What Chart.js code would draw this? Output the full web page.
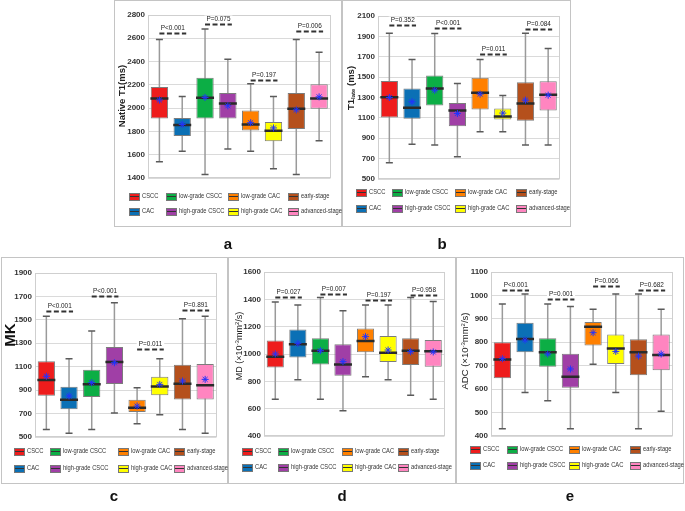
<!DOCTYPE html>
<html><head><meta charset="utf-8">
<script src="https://cdn.jsdelivr.net/npm/chart.js@4.4.0/dist/chart.umd.min.js"></script>
<style>
body{margin:0;width:685px;height:511px;background:#fff;position:relative;overflow:hidden;font-family:"Liberation Sans",Arial,sans-serif;}
.frame{position:absolute;border:1px solid #c4c4c4;box-sizing:border-box;}
canvas{position:absolute;}
.lbl{position:absolute;font-weight:bold;font-size:15px;line-height:15px;color:#111;transform:translateX(-50%);}
.yt{position:absolute;white-space:nowrap;color:#222;line-height:1;transform:translate(-50%,-50%) rotate(-90deg);}
.leg{position:absolute;white-space:nowrap;height:10px;}
.sw{position:absolute;left:0;top:1px;width:9px;height:6px;border:1px solid #777;}
.sw:after{content:"";position:absolute;left:0;right:0;top:2px;height:1px;background:#333;}
.lt{position:absolute;left:13px;top:-1px;font-size:8px;line-height:10px;color:#333;transform:scaleX(0.72);transform-origin:0 50%;}
</style></head>
<body>
<script>
// ---------- data ----------
const categories = ['CSCC','CAC','low-grade CSCC','high-grade CSCC','low-grade CAC','high-grade CAC','early-stage','advanced-stage'];
const colors = ['#ee1c1c','#0b70b5','#0cae45','#a03fa6','#ff8000','#ffff00','#b5501c','#ff85c0'];

// Panel a: Native T1 (ms)
const t1Min  = [1540,1630,1430,1650,1630,1480,1430,1720];
const t1Q1   = [1912,1760,1910,1912,1808,1715,1820,1995];
const t1Med  = [2082,1855,2090,2040,1860,1805,1995,2082];
const t1Q3   = [2182,1915,2262,2130,1980,1882,2130,2205];
const t1Max  = [2590,2100,2680,2420,2210,2100,2590,2480];
const t1Mean = [2070,1860,2092,2020,1875,1830,1985,2097];
const t1Ticks = [1400,2800,200];
const t1P = ['P<0.001','P=0.075','P=0.197','P=0.006'];
const t1PLevel = [2645,2720,2245,2660];

// Panel b: T1late (ms)
const tlMin  = [660,840,833,719,964,964,833,833];
const tlQ1   = [1104,1091,1222,1019,1183,1085,1072,1173];
const tlMed  = [1303,1199,1388,1173,1346,1114,1241,1326];
const tlQ3   = [1463,1388,1516,1245,1493,1192,1450,1460];
const tlMax  = [1930,1672,1927,1437,1672,1320,1930,1780];
const tlMean = [1300,1258,1372,1143,1333,1147,1274,1323];
const tlTicks = [500,2100,200];
const tlP = ['P=0.352','P<0.001','P=0.011','P=0.084'];
const tlPLevel = [2015,1979,1731,1973];

// Panel c: MK
const mkMin  = [565,531,565,705,614,690,565,531];
const mkQ1   = [853,736,841,952,713,856,821,821];
const mkMed  = [986,819,950,1140,750,932,955,941];
const mkQ3   = [1146,929,1075,1268,819,1015,1117,1123];
const mkMax  = [1530,1169,1405,1647,921,1169,1510,1530];
const mkMean = [1018,850,964,1134,764,949,978,992];
const mkTicks = [500,1900,200];
const mkP = ['P<0.001','P<0.001','P=0.011','P=0.891'];
const mkPLevel = [1576,1704,1254,1581];

// Panel d: MD
const mdMin  = [669,811,669,584,833,811,699,669];
const mdQ1   = [902,975,924,841,1012,941,919,907];
const mdMed  = [980,1071,1024,924,1095,1010,1024,1020];
const mdQ3   = [1098,1179,1115,1071,1186,1132,1115,1103];
const mdMax  = [1380,1358,1414,1316,1358,1358,1414,1384];
const mdMean = [1000,1078,1024,944,1127,1029,1017,1015];
const mdTicks = [400,1600,200];
const mdP = ['P=0.027','P=0.007','P=0.197','P=0.958'];
const mdPLevel = [1414,1438,1397,1429];

// Panel e: ADC
const adcMin  = [431,586,550,431,706,586,431,506];
const adcQ1   = [646,757,696,606,786,707,659,681];
const adcMed  = [726,814,757,653,866,774,757,746];
const adcQ3   = [800,883,817,751,887,833,813,833];
const adcMax  = [963,1006,963,953,941,1006,1006,941];
const adcMean = [730,810,750,686,841,761,741,750];
const adcTicks = [400,1100,100];
const adcP = ['P<0.001','P=0.001','P=0.066','P=0.682'];
const adcPLevel = [1024,984,1039,1024];

// pairs compared by each p-value (category indices)
const pPairs = [[0,1],[2,3],[4,5],[6,7]];

// ---------- layout ----------
const panels = [
  {key:'a', frame:[114,0,228,227], plot:[148,15,340,178], d:[t1Min,t1Q1,t1Med,t1Q3,t1Max,t1Mean], ticks:t1Ticks, p:t1P, pl:t1PLevel,
   title:{html:'Native T1(ms)', x:122, y:96, css:'font-size:9.5px;font-weight:bold;'},
   leg:{cols:[129,166,228,288], rows:[197,212]}, lbl:[228,236]},
  {key:'b', frame:[342,0,229,227], plot:[378,16,568,179], d:[tlMin,tlQ1,tlMed,tlQ3,tlMax,tlMean], ticks:tlTicks, p:tlP, pl:tlPLevel,
   title:{html:'T1<sub style="font-size:6px;vertical-align:-1px">late</sub> (ms)', x:351, y:88, css:'font-size:9.5px;font-weight:bold;'},
   leg:{cols:[356,392,455,516], rows:[193,209]}, lbl:[442,236]},
  {key:'c', frame:[1,257,227,227], plot:[35,273,226,437], d:[mkMin,mkQ1,mkMed,mkQ3,mkMax,mkMean], ticks:mkTicks, p:mkP, pl:mkPLevel,
   title:{html:'MK', x:9, y:335, css:'font-size:15px;font-weight:bold;color:#111;'},
   leg:{cols:[14,50,118,174], rows:[452,469]}, lbl:[114,488]},
  {key:'d', frame:[228,257,228,227], plot:[264,272,455,436], d:[mdMin,mdQ1,mdMed,mdQ3,mdMax,mdMean], ticks:mdTicks, p:mdP, pl:mdPLevel,
   title:{html:'MD (×10<sup style="font-size:6px;vertical-align:3px">-3</sup>mm<sup style="font-size:6px;vertical-align:3px">2</sup>/s)', x:239, y:346, css:'font-size:9px;'},
   leg:{cols:[242,278,342,398], rows:[452,468]}, lbl:[342,488]},
  {key:'e', frame:[456,257,228,227], plot:[491,272,683,436], d:[adcMin,adcQ1,adcMed,adcQ3,adcMax,adcMean], ticks:adcTicks, p:adcP, pl:adcPLevel,
   title:{html:'ADC (×10<sup style="font-size:6px;vertical-align:3px">-3</sup>mm<sup style="font-size:6px;vertical-align:3px">2</sup>/s)', x:465, y:351, css:'font-size:9.5px;'},
   leg:{cols:[470,507,569,630], rows:[450,466]}, lbl:[570,488]}
];

const deco = {
  id:'deco',
  beforeDatasetsDraw(chart){
    const {ctx, chartArea:a} = chart;
    ctx.save(); ctx.strokeStyle='#cfcfcf'; ctx.lineWidth=1;
    ctx.strokeRect(Math.round(a.left)+0.5, Math.round(a.top)+0.5, Math.round(a.width)-1, Math.round(a.height)-1);
    ctx.restore();
  },
  afterDatasetsDraw(chart, args, opts){
    const {ctx} = chart; const xs = chart.scales.x, ys = chart.scales.y;
    opts.labels.forEach((t, k) => {
      const [i1, i2] = pPairs[k];
      const x1 = xs.getPixelForValue(i1), x2 = xs.getPixelForValue(i2) + 4;
      const y = Math.round(ys.getPixelForValue(opts.levels[k])) + 0.5;
      ctx.save();
      ctx.font = '8px "Liberation Sans", Arial, sans-serif';
      const w = ctx.measureText(t).width * 0.8;
      const cx = (x1 + x2) / 2;
      ctx.fillStyle = '#fff';
      ctx.fillRect(cx - w/2 - 2, y - 9, w + 4, 7);
      ctx.translate(cx, y - 1.5); ctx.scale(0.8, 1);
      ctx.fillStyle = '#222'; ctx.textAlign = 'center'; ctx.textBaseline = 'bottom';
      ctx.fillText(t, 0, 0);
      ctx.restore();
      ctx.save();
      ctx.strokeStyle = '#333'; ctx.lineWidth = 2; ctx.setLineDash([5, 2.5]);
      ctx.beginPath(); ctx.moveTo(x1, y); ctx.lineTo(x2, y); ctx.stroke();
      ctx.restore();
    });
  }
};

const AXW = 26;
panels.forEach(p => {
  const [fx, fy, fw, fh] = p.frame;
  const [pl, pt, pr, pb] = p.plot;
  const fr = document.createElement('div');
  fr.className = 'frame';
  fr.style.cssText = `left:${fx}px;top:${fy}px;width:${fw}px;height:${fh}px;`;
  document.body.appendChild(fr);
  const cv = document.createElement('canvas');
  cv.width = fw; cv.height = fh;
  cv.style.cssText = `left:${fx}px;top:${fy}px;width:${fw}px;height:${fh}px;`;
  document.body.appendChild(cv);
  const [mn, q1, md, q3, mx, me] = p.d;
  new Chart(cv, {
    type: 'bar',
    data: {
      labels: categories,
      datasets: [
        {type:'bar', data: mn.map((v,i)=>[v, mx[i]]), backgroundColor:'#9a9a9a', maxBarThickness:1.5, barPercentage:0.1, categoryPercentage:1, grouped:false, order:5},
        {type:'bar', data: q1.map((v,i)=>[v, q3[i]]), backgroundColor: colors, borderColor:'#7c7c7c', borderWidth:1, borderSkipped:false, barPercentage:0.76, categoryPercentage:1, grouped:false, order:4},
        {type:'line', data: md, showLine:false, pointStyle:'line', pointRadius:9, pointBorderWidth:2.5, pointBorderColor:'#2a2a2a', order:3},
        {type:'line', data: mx, showLine:false, pointStyle:'line', pointRadius:3.5, pointBorderWidth:1.5, pointBorderColor:'#5a5a5a', order:3},
        {type:'line', data: mn, showLine:false, pointStyle:'line', pointRadius:3.5, pointBorderWidth:1.5, pointBorderColor:'#5a5a5a', order:3},
        {type:'line', data: me, showLine:false, pointStyle:'star', pointRadius:3.5, pointBorderWidth:1, pointBorderColor:'#2233ff', order:1}
      ]
    },
    options: {
      responsive:false, animation:false, events:[],
      layout:{padding:{left: pl - fx - AXW, top: pt - fy, right: fx + fw - pr, bottom: fy + fh - pb}},
      plugins:{legend:{display:false}, tooltip:{enabled:false}, deco:{labels:p.p, levels:p.pl}},
      scales:{
        x:{type:'category', display:false, offset:true},
        y:{min:p.ticks[0], max:p.ticks[1],
           ticks:{stepSize:p.ticks[2], color:'#333', padding:3, callback:v => String(v),
                  font:{size:8, weight:'bold', family:'"Liberation Sans", Arial, sans-serif'}},
           grid:{color:'#dadada', drawTicks:false},
           border:{display:false},
           afterFit(s){ s.width = AXW; }}
      }
    },
    plugins:[deco]
  });
  // y title
  const t = document.createElement('div');
  t.className = 'yt'; t.innerHTML = p.title.html;
  t.style.cssText = `left:${p.title.x}px;top:${p.title.y}px;` + p.title.css;
  document.body.appendChild(t);
  // legend (two rows, four columns)
  const order = [[0,2,4,6],[1,3,5,7]];
  order.forEach((row, r) => row.forEach((ci, c) => {
    const g = document.createElement('div');
    g.className = 'leg';
    g.style.left = p.leg.cols[c] + 'px';
    g.style.top = (p.leg.rows[r] - 5) + 'px';
    g.innerHTML = `<span class="sw" style="background:${colors[ci]}"></span><span class="lt">${categories[ci]}</span>`;
    document.body.appendChild(g);
  }));
  // panel letter
  const l = document.createElement('div');
  l.className = 'lbl'; l.textContent = p.key;
  l.style.left = p.lbl[0] + 'px'; l.style.top = p.lbl[1] + 'px';
  document.body.appendChild(l);
});
</script>
</body></html>
